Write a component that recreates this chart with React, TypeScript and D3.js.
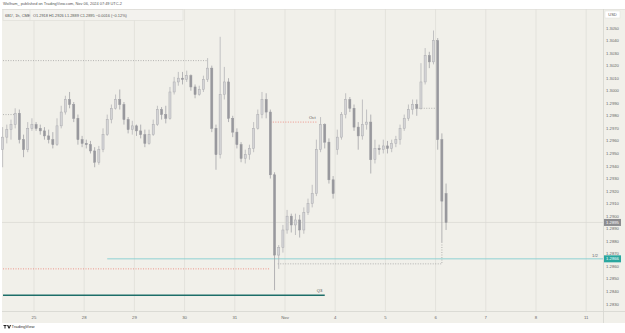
import { useMemo } from "react";
import * as d3 from "d3";

const opens = [
  1.2953, 1.2963, 1.2969, 1.2973, 1.2982, 1.2961, 1.2953, 1.297,
  1.2973, 1.297, 1.2968, 1.2964, 1.2961, 1.2957, 1.2972, 1.2983, 1.2993, 1.2989, 1.2978, 1.2961,
  1.2958, 1.2957, 1.2952, 1.2943, 1.2953, 1.2965, 1.2977, 1.2986, 1.2993, 1.2989, 1.2977, 1.2969,
  1.2972, 1.2968, 1.2965, 1.2958, 1.2965, 1.2973, 1.2985, 1.2981, 1.2978, 1.2999, 1.3007, 1.301,
  1.3009, 1.3012, 1.3003, 1.2997, 1.3001, 1.3009, 1.3018, 1.297, 1.2949, 1.2997, 1.3007, 1.2978,
  1.2967, 1.2957, 1.2946, 1.2949, 1.2954, 1.297, 1.2981, 1.2993, 1.2983, 1.2933, 1.2869, 1.2875,
  1.2889, 1.29, 1.2893, 1.2897, 1.2889, 1.2903, 1.291, 1.2918, 1.2953, 1.2973, 1.2959, 1.2929,
  1.2953, 1.2963, 1.2981, 1.2993, 1.2986, 1.2971, 1.2964, 1.2973, 1.2975, 1.2945, 1.2954, 1.2953,
  1.2956, 1.2954, 1.2958, 1.2961, 1.297, 1.2978, 1.2985, 1.2989, 1.2986, 1.3007, 1.3028, 1.3023,
  1.304, 1.2961, 1.2918,
];
const highs = [
  1.2971, 1.2973, 1.2977, 1.2986, 1.2985, 1.2965, 1.2975, 1.2978,
  1.2975, 1.2973, 1.2971, 1.2969, 1.2967, 1.2978, 1.2988, 1.2996, 1.2999, 1.2991, 1.2981, 1.2964,
  1.2961, 1.296, 1.2955, 1.2956, 1.297, 1.2981, 1.2989, 1.2997, 1.3001, 1.2991, 1.2979, 1.2976,
  1.2973, 1.2973, 1.2969, 1.2969, 1.2977, 1.2988, 1.2987, 1.2988, 1.3003, 1.3011, 1.3015, 1.3015,
  1.3016, 1.3013, 1.3005, 1.3004, 1.3012, 1.3026, 1.302, 1.2973, 1.3043, 1.3019, 1.301, 1.298,
  1.297, 1.2959, 1.2953, 1.2957, 1.2975, 1.2985, 1.2999, 1.2998, 1.2985, 1.2935, 1.2877, 1.2893,
  1.2905, 1.2902, 1.2902, 1.2901, 1.2907, 1.2914, 1.2925, 1.2961, 1.2979, 1.2974, 1.2962, 1.2932,
  1.2969, 1.2983, 1.2998, 1.2995, 1.2989, 1.2975, 1.2993, 1.2985, 1.2981, 1.2961, 1.2957, 1.2961,
  1.296, 1.2961, 1.2964, 1.2973, 1.2981, 1.2989, 1.2993, 1.2993, 1.3022, 1.3034, 1.3031, 1.3048,
  1.3042, 1.2966, 1.2926,
];
const lows = [
  1.2939, 1.2958, 1.2961, 1.297, 1.2958, 1.2947, 1.2951, 1.2968,
  1.2968, 1.2965, 1.2961, 1.2958, 1.2954, 1.2956, 1.297, 1.2981, 1.2986, 1.2975, 1.2957, 1.2955,
  1.2954, 1.295, 1.2939, 1.2941, 1.2951, 1.2964, 1.2974, 1.2985, 1.2985, 1.2973, 1.2966, 1.2965,
  1.2964, 1.2962, 1.2955, 1.2957, 1.2964, 1.2972, 1.2977, 1.2974, 1.2977, 1.2997, 1.3004, 1.3005,
  1.3007, 1.3, 1.2994, 1.2996, 1.2999, 1.3007, 1.2967, 1.2937, 1.2946, 1.2993, 1.2975, 1.2963,
  1.2954, 1.2943, 1.2942, 1.2945, 1.2951, 1.2969, 1.2978, 1.2978, 1.293, 1.2841, 1.2858, 1.2871,
  1.2886, 1.2887, 1.2885, 1.2883, 1.2886, 1.2901, 1.2907, 1.2916, 1.2951, 1.2954, 1.2926, 1.2914,
  1.2949, 1.2961, 1.2978, 1.2983, 1.2968, 1.2953, 1.2961, 1.2969, 1.2934, 1.2942, 1.2949, 1.295,
  1.295, 1.2951, 1.2955, 1.2957, 1.2968, 1.2976, 1.2981, 1.298, 1.2985, 1.3005, 1.3018, 1.3021,
  1.2953, 1.2879, 1.2889,
];
const closes = [
  1.2963, 1.2969, 1.2973, 1.2982, 1.2961, 1.2953, 1.297, 1.2973,
  1.297, 1.2968, 1.2964, 1.2961, 1.2957, 1.2972, 1.2983, 1.2993, 1.2989, 1.2978, 1.2961, 1.2958,
  1.2957, 1.2952, 1.2943, 1.2953, 1.2965, 1.2977, 1.2986, 1.2993, 1.2989, 1.2977, 1.2969, 1.2972,
  1.2968, 1.2965, 1.2958, 1.2965, 1.2973, 1.2985, 1.2981, 1.2978, 1.2999, 1.3007, 1.301, 1.3009,
  1.3012, 1.3003, 1.2997, 1.3001, 1.3009, 1.3018, 1.297, 1.2949, 1.2997, 1.3007, 1.2978, 1.2967,
  1.2957, 1.2946, 1.2949, 1.2954, 1.297, 1.2981, 1.2993, 1.2983, 1.2933, 1.2869, 1.2875, 1.2889,
  1.29, 1.2893, 1.2897, 1.2889, 1.2903, 1.291, 1.2918, 1.2953, 1.2973, 1.2959, 1.2929, 1.2918,
  1.2963, 1.2981, 1.2993, 1.2986, 1.2971, 1.2964, 1.2973, 1.2975, 1.2945, 1.2954, 1.2953, 1.2956,
  1.2954, 1.2958, 1.2961, 1.297, 1.2978, 1.2985, 1.2989, 1.2986, 1.3007, 1.3028, 1.3023, 1.304,
  1.2961, 1.2912, 1.2895,
];

const dayLabels = ["25", "28", "29", "30", "31", "Nov", "4", "5", "6", "7", "8", "11"];
const priceTicks = [
  1.305, 1.304, 1.303, 1.302, 1.301, 1.3, 1.299, 1.298, 1.297, 1.296, 1.295, 1.294,
  1.293, 1.292, 1.291, 1.29, 1.289, 1.288, 1.287, 1.286, 1.285, 1.284, 1.283,
];

// drawn levels
const lastPrice = 1.2895;
const halfLevel = 1.2866;
const q3Level = 1.2837;
const octLevel = 1.2975;
const redLowLevel = 1.2858;
const grayLowLevel = 1.2862;
const grayTopLevel = 1.3024;
const grayLeftLevel = 1.2981;
const grayNovLevel = 1.2986;

const W = 625;
const H = 333;
const BARS_PER_DAY = 12;
const FIRST_DAY_BAR = 8;

export default function App() {
  const bars = useMemo(
    () => closes.map((c, i) => ({ i, o: opens[i], h: highs[i], l: lows[i], c })),
    [],
  );

  const pane = { left: 2, right: 603, top: 9, bottom: 311 };

  const x = d3
    .scaleLinear()
    .domain([FIRST_DAY_BAR - 0.5, FIRST_DAY_BAR - 0.5 + BARS_PER_DAY * 11])
    .range([34, 34 + 50.2 * 11]);
  const y = d3.scaleLinear().domain([1.283, 1.305]).range([304, 28]);

  const bw = (x(1) - x(0)) * 0.5;
  const dayX = dayLabels.map((_, k) => x(FIRST_DAY_BAR - 0.5 + BARS_PER_DAY * k));
  const bx = (i: number) => x(i);

  const font = "'Liberation Sans', Arial, sans-serif";
  const upFill = "#d4d4d6";
  const upStroke = "#acacb0";
  const downFill = "#98989d";

  const last = bars[bars.length - 1];

  return (
    <div style={{ position: "absolute", left: 0, top: 0 }}>
      <svg width={W} height={H} style={{ display: "block", fontFamily: font }}>
        <rect width={W} height={H} fill="#ffffff" />
        <rect x={pane.left} y={pane.top} width={W - pane.left} height={pane.bottom - pane.top + 12} fill="#f1f0ea" />

        {/* header */}
        <text x={3} y={5} fontSize={3.9} fill="#555">
          Wolfram_ published on TradingView.com, Nov 06, 2024 07:49 UTC-2
        </text>

        {/* vertical grid */}
        {dayX.map((dx, k) => (
          <line key={k} x1={dx} x2={dx} y1={pane.top} y2={pane.bottom} stroke="#e3e2dc" strokeWidth={1} />
        ))}

        {/* legend */}
        <rect x={3} y={9.5} width={180} height={11} fill="#f3f2ee" stroke="#dddcd6" strokeWidth={0.6} />
        <text x={5} y={16.5} fontSize={3.9} fill="#555">
          6B1!, 1h, CME
        </text>
        <line x1={30} x2={30} y1={9.5} y2={20.5} stroke="#dddcd6" strokeWidth={0.6} />
        <text x={33} y={16.5} fontSize={3.9} fill="#555">
          O1.2918 H1.2926 L1.2889 C1.2895 −0.0016 (−0.12%)
        </text>

        {/* last price line */}
        <line x1={pane.left} x2={pane.right} y1={y(lastPrice)} y2={y(lastPrice)} stroke="#dcdbd5" strokeWidth={0.8} />

        {/* levels */}
        <line x1={3} x2={bx(49)} y1={y(grayTopLevel)} y2={y(grayTopLevel)} stroke="#9a9a9a" strokeWidth={0.7} strokeDasharray="1,1.5" />
        <line x1={3} x2={bx(3)} y1={y(grayLeftLevel)} y2={y(grayLeftLevel)} stroke="#9a9a9a" strokeWidth={0.7} strokeDasharray="1,1.5" />
        <line x1={bx(99) + 2} x2={bx(103) + 2} y1={y(grayNovLevel)} y2={y(grayNovLevel)} stroke="#9a9a9a" strokeWidth={0.7} strokeDasharray="1,1.5" />
        <line x1={bx(64)} x2={bx(75)} y1={y(octLevel)} y2={y(octLevel)} stroke="#ee7d72" strokeWidth={0.8} strokeDasharray="1,1.5" />
        <text x={bx(75) - 4} y={y(octLevel) - 3} fontSize={4.2} fill="#555" textAnchor="middle">
          Oct
        </text>
        <line x1={3} x2={bx(64)} y1={y(redLowLevel)} y2={y(redLowLevel)} stroke="#ee7d72" strokeWidth={0.8} strokeDasharray="1,1.5" />
        <path
          d={`M${bx(66) - 1},${y(grayLowLevel)} H${bx(105)} V${y(1.2879)}`}
          fill="none"
          stroke="#9a9a9a"
          strokeWidth={0.7}
          strokeDasharray="1,1.5"
        />
        <line x1={bx(25)} x2={pane.right} y1={y(halfLevel)} y2={y(halfLevel)} stroke="#86cfd0" strokeWidth={0.9} />
        <text x={598} y={y(halfLevel) - 2} fontSize={4.3} fill="#666" textAnchor="end">
          1/2
        </text>
        <line x1={3} x2={bx(77)} y1={y(q3Level)} y2={y(q3Level)} stroke="#1d6e69" strokeWidth={1.4} />
        <text x={bx(76) - 1} y={y(q3Level) - 3} fontSize={4.2} fill="#555" textAnchor="middle">
          Q3
        </text>

        {/* candles */}
        {bars.map((b) => {
          const up = b.c >= b.o;
          const top = y(Math.max(b.o, b.c));
          const bot = y(Math.min(b.o, b.c));
          const cx = bx(b.i);
          return (
            <g key={b.i}>
              <line x1={cx} x2={cx} y1={y(b.h)} y2={y(b.l)} stroke={up ? upStroke : downFill} strokeWidth={0.7} />
              <rect
                x={cx - bw / 2}
                y={top}
                width={bw}
                height={Math.max(bot - top, 0.8)}
                fill={up ? upFill : downFill}
                stroke={up ? upStroke : downFill}
                strokeWidth={0.5}
              />
            </g>
          );
        })}

        {/* pane borders */}
        <line x1={pane.left} x2={W} y1={pane.top + 0.5} y2={pane.top + 0.5} stroke="#dddcd6" strokeWidth={0.6} />
        <line x1={pane.left} x2={W} y1={pane.bottom + 0.5} y2={pane.bottom + 0.5} stroke="#d6d5cf" strokeWidth={0.8} />
        <line x1={pane.right + 0.5} x2={pane.right + 0.5} y1={pane.top} y2={pane.bottom + 12} stroke="#d6d5cf" strokeWidth={0.8} />

        {/* price axis */}
        <rect x={605} y={11} width={15} height={7} fill="#ffffff" stroke="#e0dfd9" strokeWidth={0.5} />
        <text x={612.5} y={16} fontSize={4} fill="#555" textAnchor="middle">
          USD
        </text>
        {priceTicks.map((p) => (
          <text key={p} x={612.5} y={y(p) + 1.5} fontSize={4.2} fill="#666" textAnchor="middle">
            {p.toFixed(4)}
          </text>
        ))}
        <rect x={604} y={y(last.c) - 3.5} width={17} height={7} fill="#8d8d90" />
        <text x={612.5} y={y(last.c) + 1.5} fontSize={4.2} fill="#fff" textAnchor="middle">
          {last.c.toFixed(4)}
        </text>
        <rect x={604} y={y(halfLevel) - 3.5} width={17} height={7} fill="#2aa79f" />
        <text x={612.5} y={y(halfLevel) + 1.5} fontSize={4.2} fill="#fff" textAnchor="middle">
          {halfLevel.toFixed(4)}
        </text>

        {/* time axis */}
        {dayLabels.map((d, k) => (
          <text key={d} x={dayX[k]} y={318.5} fontSize={4.3} fill="#666" textAnchor="middle">
            {d}
          </text>
        ))}

        {/* footer logo */}
        <path d="M3.5,325 h3 v1 h-1 v2.5 h-1 v-2.5 h-1 z M7,325 h1.3 l0.8,2.2 l0.8,-2.2 h1.1 l-1.4,3.5 h-1.1 z" fill="#222" />
        <text x={11.5} y={328.3} fontSize={4.2} fill="#333">
          TradingView
        </text>
      </svg>
    </div>
  );
}
